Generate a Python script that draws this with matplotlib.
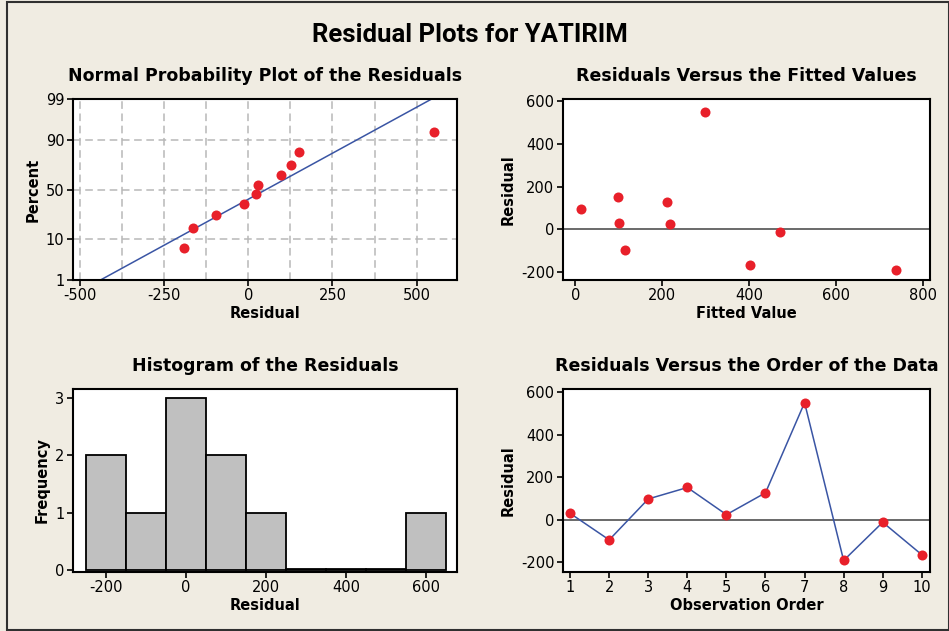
import numpy as np
import matplotlib
matplotlib.use('Agg')
import matplotlib.pyplot as plt
from matplotlib.patches import Rectangle
from statistics import NormalDist

# residuals in observation order, and the fitted values that go with them
obs_order = [1, 2, 3, 4, 5, 6, 7, 8, 9, 10]
residuals = [30, -95, 98, 152, 24, 127, 552, -192, -12, -165]
fitted = [100, 115, 13, 97, 217, 210, 297, 737, 470, 402]

# histogram bins (width 100, centred on multiples of 100)
bin_centers = [-200, -100, 0, 100, 200, 300, 400, 500, 600]

prob_ticks = [1, 10, 50, 90, 99]

bg = '#F0ECE2'
red = '#E8202A'
blue = '#3A55A4'

plt.rcParams['font.family'] = ['DejaVu Sans']
plt.rcParams['font.size'] = 10
plt.rcParams['axes.unicode_minus'] = False

fig = plt.figure(figsize=(9.49, 6.31), dpi=100, facecolor=bg)
W, H = 949, 631


def make_ax(left, top, right, bottom):
    ax = fig.add_axes([left / W, 1 - bottom / H, (right - left) / W, (bottom - top) / H])
    ax.set_facecolor('white')
    for s in ax.spines.values():
        s.set_linewidth(1.5)
        s.set_color('black')
    ax.tick_params(direction='out', length=4, width=1.2, labelsize=10.5, pad=2)
    return ax


title_kw = dict(fontsize=12.5, fontweight='bold', pad=13)
label_kw = dict(fontsize=10.5, fontweight='bold')

fig.text(470 / W, 1 - 35 / H, 'Residual Plots for YATIRIM', ha='center', va='center',
         fontsize=18.5, fontweight='bold', family=['Roboto', 'DejaVu Sans'])

# --- normal probability plot
nd = NormalDist()
ax1 = make_ax(72.7, 99.3, 457.3, 280)
res = np.array(residuals, dtype=float)
n = len(res)
srt = np.sort(res)
pct = (np.arange(1, n + 1) - 0.3) / (n + 0.4)
zs = np.array([nd.inv_cdf(p) for p in pct])
mu, sd = res.mean(), res.std(ddof=1)
zlo, zhi = nd.inv_cdf(0.01), nd.inv_cdf(0.99)
for x in np.arange(-500, 501, 125):
    ax1.axvline(x, color='#B8B8B8', lw=1.1, ls=(0, (5, 3)), zorder=1)
for p in [10, 50, 90]:
    ax1.axhline(nd.inv_cdf(p / 100), color='#B8B8B8', lw=1.1, ls=(0, (5, 3)), zorder=1)
zl = np.linspace(zlo, zhi, 50)
ax1.plot(mu + sd * zl, zl, color=blue, lw=1.1, zorder=2)
ax1.scatter(srt, zs, s=52, color=red, zorder=3, linewidths=0)
ax1.set_xlim(-522, 621)
ax1.set_ylim(zlo, zhi)
ax1.set_xticks([-500, -250, 0, 250, 500])
ax1.set_yticks([nd.inv_cdf(p / 100) for p in prob_ticks])
ax1.set_yticklabels([str(p) for p in prob_ticks])
ax1.set_title('Normal Probability Plot of the Residuals', **title_kw)
ax1.set_xlabel('Residual', labelpad=2, **label_kw)
ax1.set_ylabel('Percent', labelpad=4, **label_kw)

# --- residuals vs fitted
ax2 = make_ax(562.7, 99.3, 930, 280)
ax2.axhline(0, color='#505050', lw=1.2, zorder=1)
ax2.scatter(fitted, residuals, s=52, color=red, zorder=3, linewidths=0)
ax2.set_xlim(-29, 815)
ax2.set_ylim(-237, 610)
ax2.set_xticks([0, 200, 400, 600, 800])
ax2.set_yticks([-200, 0, 200, 400, 600])
ax2.set_title('Residuals Versus the Fitted Values', **title_kw)
ax2.set_xlabel('Fitted Value', labelpad=2, **label_kw)
ax2.set_ylabel('Residual', labelpad=4, **label_kw)

# --- histogram
ax3 = make_ax(72.7, 389, 457.3, 571.7)
edges = np.array(bin_centers + [bin_centers[-1] + 100]) - 50
counts, _ = np.histogram(res, bins=edges)
# empty bins still show as a flat outlined bar, as in Minitab
heights = np.maximum(counts, 0.012)
ax3.bar(bin_centers, heights, width=100, color='#C0C0C0', edgecolor='black', linewidth=1.3,
        zorder=2)
ax3.set_xlim(-283, 678)
ax3.set_ylim(-0.03, 3.15)
ax3.set_xticks([-200, 0, 200, 400, 600])
ax3.set_yticks([0, 1, 2, 3])
ax3.set_title('Histogram of the Residuals', **title_kw)
ax3.set_xlabel('Residual', labelpad=2, **label_kw)
ax3.set_ylabel('Frequency', labelpad=4, **label_kw)

# --- residuals vs order
ax4 = make_ax(562.7, 389.3, 930, 571.7)
ax4.axhline(0, color='#505050', lw=1.2, zorder=1)
ax4.plot(obs_order, residuals, color=blue, lw=1.1, zorder=2)
ax4.scatter(obs_order, residuals, s=52, color=red, zorder=3, linewidths=0)
ax4.set_xlim(0.81, 10.21)
ax4.set_ylim(-245, 615)
ax4.set_xticks(obs_order)
ax4.set_yticks([-200, 0, 200, 400, 600])
ax4.set_title('Residuals Versus the Order of the Data', **title_kw)
ax4.set_xlabel('Observation Order', labelpad=2, **label_kw)
ax4.set_ylabel('Residual', labelpad=4, **label_kw)

# outer frame
fig.patches.append(Rectangle((7 / W, 1 / H), (W - 7) / W, (H - 3) / H, transform=fig.transFigure,
                             fill=False, edgecolor='#303030', lw=1.5))

fig.savefig('out.png', dpi=100, facecolor=bg)
